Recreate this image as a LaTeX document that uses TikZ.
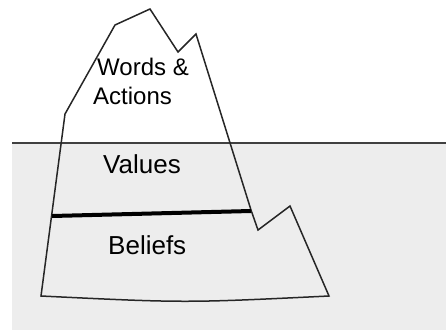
\documentclass[tikz,border=0pt]{standalone}
\usepackage{fontspec}
\setmainfont{Liberation Sans}

\begin{document}
\begin{tikzpicture}[x=1pt,y=-1pt,
		label/.style={anchor=base west,inner sep=0pt,font=\fontsize{24}{28}\selectfont}]
			% Rahmen festlegen
			\useasboundingbox (0,0) rectangle (446,332);
			
			% Wasser zeichnen
			\fill[gray!14] (12,143) rectangle (446,330);
			\draw[black!75,line width=1.2pt] (12,143) to (446,143);
			
			% Eisberg zeichnen
			\draw[black!85,line width=1.5pt,line join=miter]
				(41,296) -- (65,114) -- (115,25) -- (150,9) -- (178,52) -- (196,34)
				-- (251,210) -- (258,230) -- (290,206) -- (329,296)
				.. controls (185,303) .. (41,296) -- cycle;
			
			% Trennlinie
			\coordinate (sep-left) at (52,216);
			\coordinate (sep-right) at (251,211);
			\draw[line width=4pt] (sep-left) to (sep-right);
			
			% Beschriftungen eintragen
			\node[label] (words) at (97,75) {Words \&};
			\node[label] (actions) at (93,104) {Actions};
			\node[label,font=\fontsize{26}{28}\selectfont] (values) at (103,173) {Values};
			\node[label,font=\fontsize{26}{28}\selectfont] (beliefs) at (108,254) {Beliefs};
	\end{tikzpicture}
\end{document}
